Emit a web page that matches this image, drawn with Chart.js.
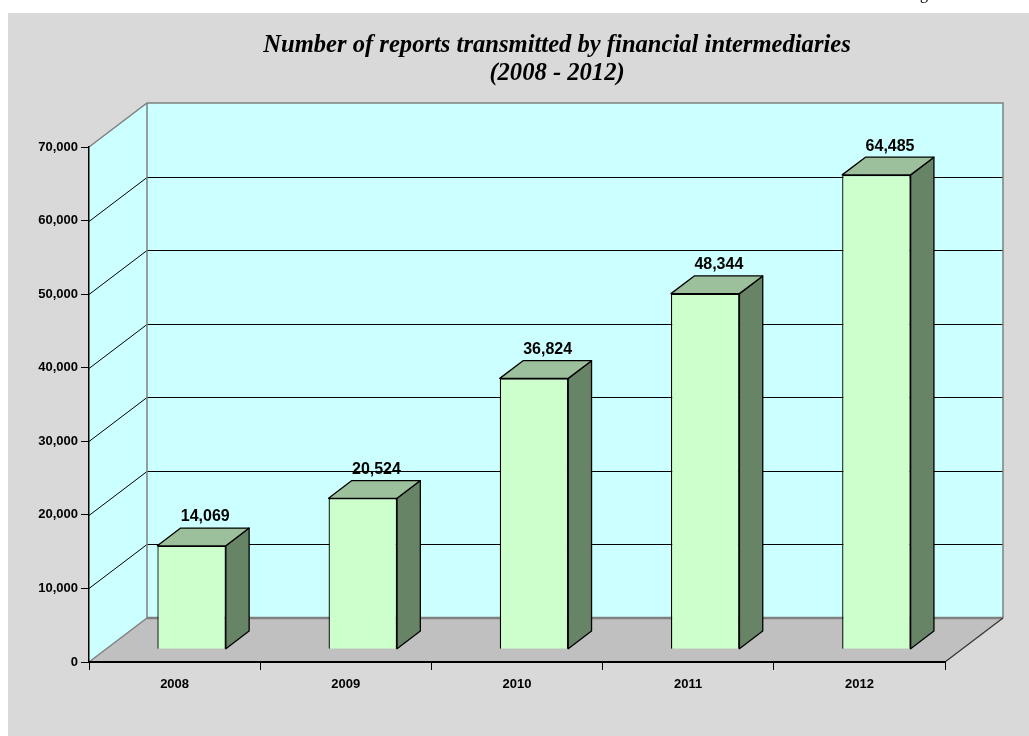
<!DOCTYPE html>
<html>
<head>
<meta charset="utf-8">
<script src="https://cdn.jsdelivr.net/npm/chart.js@4/dist/chart.umd.min.js"></script>
<style>
	body { margin: 0; background: #ffffff; }
	#wrap { width: 1029px; height: 736px; }
</style>
</head>
<body>
<div id="wrap"><canvas id="myChart" width="1029" height="736"></canvas></div>
<script>
const years = ['2008', '2009', '2010', '2011', '2012']
const reports = [14069, 20524, 36824, 48344, 64485]
const yTicks = [0, 10000, 20000, 30000, 40000, 50000, 60000, 70000]
const titleLines = ['Number of reports transmitted by financial intermediaries', '(2008 - 2012)']

// depth of the 3d box and of the bars inside it
const DEPTH_X = 58, DEPTH_Y = -44
const BAR_OFF_X = 17, BAR_OFF_Y = -12.7
const BAR_SIDE_X = 23.3, BAR_SIDE_Y = -17.7

const fmt = v => v.toLocaleString('en-US')

const box3d = {
	id: 'box3d',
	beforeDraw(chart) {
		const ctx = chart.ctx
		const a = chart.chartArea
		const y = chart.scales.y
		ctx.save()
		ctx.fillStyle = '#ffffff'
		ctx.fillRect(0, 0, chart.width, chart.height)
		ctx.fillStyle = '#d9d9d9'
		ctx.fillRect(8, 13, chart.width - 8, chart.height - 13)

		// cut off page text at the top
		ctx.fillStyle = '#000'
		ctx.font = '16px "Liberation Serif"'
		ctx.textAlign = 'center'
		ctx.textBaseline = 'alphabetic'
		ctx.fillText('g', 924, -1)

		// title
		let size = 24
		ctx.font = 'bold italic ' + size + 'px "Liberation Serif"'
		size = size * 588 / ctx.measureText(titleLines[0]).width
		ctx.font = 'bold italic ' + size.toFixed(1) + 'px "Liberation Serif"'
		ctx.fillText(titleLines[0], 557, 52)
		ctx.fillText(titleLines[1], 557, 80)

		const L = a.left, R = a.right, T = a.top, B = a.bottom
		// side wall
		ctx.fillStyle = '#ccffff'
		ctx.beginPath()
		ctx.moveTo(L, B); ctx.lineTo(L + DEPTH_X, B + DEPTH_Y)
		ctx.lineTo(L + DEPTH_X, T + DEPTH_Y); ctx.lineTo(L, T)
		ctx.closePath(); ctx.fill()
		// back wall
		ctx.fillRect(L + DEPTH_X, T + DEPTH_Y, R - L, B - T)
		// floor
		ctx.fillStyle = '#c0c0c0'
		ctx.beginPath()
		ctx.moveTo(L, B); ctx.lineTo(R, B)
		ctx.lineTo(R + DEPTH_X, B + DEPTH_Y); ctx.lineTo(L + DEPTH_X, B + DEPTH_Y)
		ctx.closePath(); ctx.fill()

		// grid lines on back and side walls
		ctx.strokeStyle = '#000'
		ctx.lineWidth = 1
		yTicks.forEach(v => {
			if (v === 0 || v === yTicks[yTicks.length - 1]) return
			const py = Math.round(y.getPixelForValue(v)) + 0.5
			ctx.beginPath()
			ctx.moveTo(L, py)
			ctx.lineTo(L + DEPTH_X, py + DEPTH_Y)
			ctx.lineTo(R + DEPTH_X, py + DEPTH_Y)
			ctx.stroke()
		})

		// wall edges
		ctx.strokeStyle = '#808080'
		ctx.lineWidth = 1.5
		ctx.beginPath()
		ctx.moveTo(L, T); ctx.lineTo(L + DEPTH_X, T + DEPTH_Y)
		ctx.lineTo(R + DEPTH_X, T + DEPTH_Y); ctx.lineTo(R + DEPTH_X, B + DEPTH_Y)
		ctx.moveTo(L + DEPTH_X, T + DEPTH_Y); ctx.lineTo(L + DEPTH_X, B + DEPTH_Y)
		ctx.moveTo(L, B); ctx.lineTo(L + DEPTH_X, B + DEPTH_Y)
		ctx.stroke()
		ctx.lineWidth = 2.5
		ctx.beginPath()
		ctx.moveTo(L + DEPTH_X, B + DEPTH_Y); ctx.lineTo(R + DEPTH_X, B + DEPTH_Y)
		ctx.stroke()
		ctx.strokeStyle = '#333'
		ctx.lineWidth = 1.2
		ctx.beginPath()
		ctx.moveTo(R, B); ctx.lineTo(R + DEPTH_X, B + DEPTH_Y)
		ctx.stroke()
		ctx.restore()
	},
	beforeDatasetsDraw(chart) {
		chart.ctx.save()
		chart.ctx.translate(BAR_OFF_X, BAR_OFF_Y)
	},
	afterDatasetsDraw(chart) {
		const ctx = chart.ctx
		ctx.restore()
		const meta = chart.getDatasetMeta(0)
		ctx.save()
		ctx.strokeStyle = '#000'
		ctx.lineWidth = 1.3
		ctx.lineJoin = 'round'
		meta.data.forEach((bar, i) => {
			const p = bar.getProps(['x', 'y', 'base', 'width'], true)
			const l = p.x - p.width / 2 + BAR_OFF_X
			const r = p.x + p.width / 2 + BAR_OFF_X
			const t = p.y + BAR_OFF_Y
			const b = p.base + BAR_OFF_Y
			// side face
			ctx.fillStyle = '#678467'
			ctx.beginPath()
			ctx.moveTo(r, b); ctx.lineTo(r + BAR_SIDE_X, b + BAR_SIDE_Y)
			ctx.lineTo(r + BAR_SIDE_X, t + BAR_SIDE_Y); ctx.lineTo(r, t)
			ctx.closePath(); ctx.fill(); ctx.stroke()
			// top face
			ctx.fillStyle = '#9cc09c'
			ctx.beginPath()
			ctx.moveTo(l, t); ctx.lineTo(r, t)
			ctx.lineTo(r + BAR_SIDE_X, t + BAR_SIDE_Y); ctx.lineTo(l + BAR_SIDE_X, t + BAR_SIDE_Y)
			ctx.closePath(); ctx.fill(); ctx.stroke()
			// value label
			ctx.fillStyle = '#000'
			ctx.font = 'bold 16px "Liberation Sans"'
			ctx.textAlign = 'center'
			ctx.textBaseline = 'middle'
			ctx.fillText(fmt(reports[i]), p.x + BAR_OFF_X + BAR_SIDE_X / 2 + 2, t + BAR_SIDE_Y - 11)
		})
		ctx.restore()
	}
}

const context = document.getElementById('myChart')
const data = {
	labels: years,
	datasets: [
		{
			label: 'Reports',
			data: reports,
			backgroundColor: '#ccffcc',
			borderColor: '#000',
			borderWidth: 1.3,
			barPercentage: 0.4,
			categoryPercentage: 1,
		}
	]
}
const config = {
	type: 'bar',
	data: data,
	options: {
		responsive: false,
		animation: false,
		layout: { padding: { left: 0, top: 147, right: 84, bottom: 0 } },
		plugins: {
			legend: { display: false },
			tooltip: { enabled: false },
		},
		scales: {
			x: {
				afterFit: s => { s.height = 74 },
				grid: { offset: true, drawOnChartArea: false, drawTicks: true, tickLength: 8, color: '#000', lineWidth: 1 },
				border: { color: '#000', width: 2 },
				ticks: { color: '#000', font: { family: 'Liberation Sans', size: 13, weight: 'bold' }, padding: 7 },
			},
			y: {
				min: 0,
				max: 70000,
				afterFit: s => { s.width = 89 },
				afterBuildTicks: s => { s.ticks = yTicks.map(v => ({ value: v })) },
				grid: { drawOnChartArea: false, drawTicks: true, tickLength: 8, color: '#000', lineWidth: 1 },
				border: { color: '#000', width: 1.5 },
				ticks: { color: '#000', font: { family: 'Liberation Sans', size: 13, weight: 'bold' }, padding: 3, callback: v => fmt(v) },
			}
		}
	},
	plugins: [box3d]
}
const myChart = new Chart(context, config)
</script>
</body>
</html>
